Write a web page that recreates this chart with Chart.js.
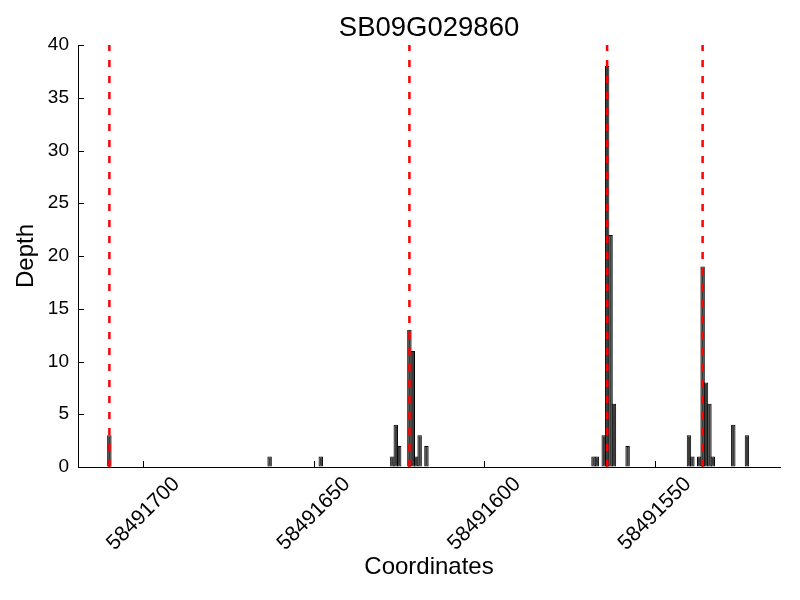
<!DOCTYPE html>
<html>
<head>
<meta charset="utf-8">
<title>SB09G029860</title>
<script src="https://cdn.jsdelivr.net/npm/chart.js@4.4.1/dist/chart.umd.min.js"></script>
<style>
  body { margin: 0; background: #fff; }
  #wrap { width: 800px; height: 600px; }
</style>
</head>
<body>
<div id="wrap"><canvas id="depthChart"></canvas></div>
<script>
// read-depth per coordinate
const positions = [
  58491710, 58491663, 58491648,
  58491627, 58491626, 58491625, 58491622, 58491621, 58491620, 58491619, 58491617,
  58491568, 58491567, 58491565, 58491564, 58491563, 58491562, 58491558,
  58491540, 58491539, 58491537, 58491536, 58491535, 58491534, 58491533, 58491527, 58491523
];
const depths = [
  3, 1, 1,
  1, 4, 2, 13, 11, 1, 3, 2,
  1, 1, 3, 38, 22, 6, 2,
  3, 1, 1, 19, 8, 6, 1, 4, 3
];

// red dashed markers
const markerPositions = [58491710, 58491622, 58491564, 58491536];

const xTickValues = [58491700, 58491650, 58491600, 58491550];
const yTickValues = [0, 5, 10, 15, 20, 25, 30, 35, 40];

const FONT = "'Liberation Sans', Arial, Helvetica, sans-serif";

const barData = positions.map((p, i) => ({ x: p, y: depths[i] }));

const markerSets = markerPositions.map(m => ({
  type: 'line',
  data: [{ x: m, y: 0 }, { x: m, y: 40 }],
  borderColor: '#ff0000',
  borderWidth: 2.5,
  borderDash: [7, 9],
  pointRadius: 0,
  fill: false,
  clip: false,
  order: 1
}));

// matplotlib style ticks pointing into the plot
const innerTicks = {
  id: 'innerTicks',
  afterDraw(chart) {
    const ctx = chart.ctx;
    const xs = chart.scales.x;
    const ys = chart.scales.y;
    const area = chart.chartArea;
    ctx.save();
    ctx.strokeStyle = '#000';
    ctx.lineWidth = 1;
    ctx.beginPath();
    yTickValues.forEach(v => {
      const py = Math.round(ys.getPixelForValue(v)) + 0.5;
      ctx.moveTo(area.left, py);
      ctx.lineTo(area.left + 6, py);
    });
    xTickValues.forEach(v => {
      const px = Math.round(xs.getPixelForValue(v)) + 0.5;
      ctx.moveTo(px, area.bottom);
      ctx.lineTo(px, area.bottom - 6);
    });
    ctx.stroke();
    ctx.restore();
  }
};

const ctx = document.getElementById('depthChart').getContext('2d');
new Chart(ctx, {
  type: 'bar',
  data: {
    datasets: [
      {
        type: 'bar',
        data: barData,
        backgroundColor: '#3c3c3c',
        borderColor: '#000000',
        borderWidth: 1,
        borderSkipped: false,
        barPercentage: 1.3,
        categoryPercentage: 1,
        order: 2
      },
      ...markerSets
    ]
  },
  options: {
    responsive: true,
    maintainAspectRatio: false,
    animation: false,
    layout: { padding: { left: 0, right: 20, top: 0, bottom: 0 } },
    plugins: {
      legend: { display: false },
      tooltip: { enabled: false },
      title: {
        display: true,
        fullSize: false,
        text: 'SB09G029860',
        color: '#000',
        font: { family: FONT, size: 27.5, weight: 'normal' },
        padding: { top: 12, bottom: 0 }
      }
    },
    scales: {
      x: {
        type: 'linear',
        reverse: true,
        offset: false,
        min: 58491513.3,
        max: 58491719.2,
        afterBuildTicks: s => { s.ticks = xTickValues.map(v => ({ value: v })); },
        afterFit: s => { s.height = 133; },
        grid: { display: true, drawOnChartArea: false, drawTicks: false },
        border: { display: true, color: '#000', width: 1 },
        ticks: {
          autoSkip: false,
          minRotation: 45,
          maxRotation: 45,
          padding: 5,
          labelOffset: 33,
          color: '#000',
          font: { family: FONT, size: 21 },
          callback: v => String(v)
        },
        title: {
          display: true,
          text: 'Coordinates',
          color: '#000',
          font: { family: FONT, size: 24 },
          padding: { top: 0, bottom: 18 }
        }
      },
      y: {
        type: 'linear',
        min: 0,
        max: 40,
        afterBuildTicks: s => { s.ticks = yTickValues.map(v => ({ value: v })); },
        afterFit: s => { s.width = 78; },
        grid: { display: true, drawOnChartArea: false, drawTicks: false },
        border: { display: true, color: '#000', width: 1 },
        ticks: {
          padding: 9,
          color: '#000',
          font: { family: FONT, size: 19 }
        },
        title: {
          display: true,
          text: 'Depth',
          color: '#000',
          font: { family: FONT, size: 24 },
          padding: { top: 12, bottom: 0 }
        }
      }
    }
  },
  plugins: [innerTicks]
});
</script>
</body>
</html>
